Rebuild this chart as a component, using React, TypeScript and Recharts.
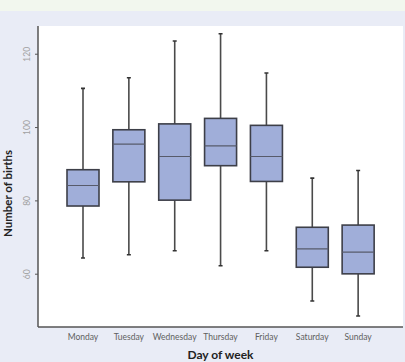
import { ComposedChart, Bar, XAxis, YAxis, CartesianGrid } from "recharts";

// values
const days = ["Monday", "Tuesday", "Wednesday", "Thursday", "Friday", "Saturday", "Sunday"];
const mins = [64.4, 65.3, 66.4, 62.3, 66.4, 52.7, 48.6];
const q1s = [78.6, 85.2, 80.2, 89.6, 85.3, 61.9, 60.1];
const medians = [84.2, 95.5, 92.1, 95.0, 92.1, 66.9, 66.0];
const q3s = [88.5, 99.4, 101.0, 102.5, 100.6, 72.8, 73.4];
const maxs = [110.7, 113.6, 123.6, 125.6, 114.9, 86.2, 88.3];
const yTicks = [60, 80, 100, 120];

const data = days.map((day, i) => ({
  day,
  min: mins[i],
  q1: q1s[i],
  median: medians[i],
  q3: q3s[i],
  max: maxs[i],
}));

const FONT = "Lato, 'Open Sans', sans-serif";

const BoxShape = (props: any) => {
  const { x, y, width, height, payload } = props;
  const k = height / (payload.q3 - payload.q1);
  const py = (v: number) => y + (payload.q3 - v) * k;
  const cx = x + width / 2;
  return (
    <g>
      <line x1={cx} x2={cx} y1={py(payload.max)} y2={y} stroke="#4a4a4a" strokeWidth={1.6} />
      <line x1={cx} x2={cx} y1={y + height} y2={py(payload.min)} stroke="#4a4a4a" strokeWidth={1.6} />
      <line x1={cx - 2} x2={cx + 2} y1={py(payload.max)} y2={py(payload.max)} stroke="#333" strokeWidth={1.6} />
      <line x1={cx - 2} x2={cx + 2} y1={py(payload.min)} y2={py(payload.min)} stroke="#333" strokeWidth={1.6} />
      <rect x={x} y={y} width={width} height={height} fill="#a0aed9" stroke="#3d3f48" strokeWidth={1.6} />
      <line x1={x} x2={x + width} y1={py(payload.median)} y2={py(payload.median)} stroke="#575b6b" strokeWidth={1.2} />
    </g>
  );
};

const YTick = (props: any) => {
  const { x, y, payload } = props;
  return (
    <text
      x={x - 3}
      y={y}
      transform={`rotate(-90, ${x - 3}, ${y})`}
      textAnchor="middle"
      fontSize={8.5}
      fill="#a0a0a0"
      fontFamily={FONT}
    >
      {payload.value}
    </text>
  );
};

export default function App() {
  return (
    <div style={{ position: "fixed", left: 0, top: 0, width: 405, height: 362, background: "#e9ecf6" }}>
      <div style={{ position: "absolute", left: 0, top: 0, width: 405, height: 11, background: "#f2f7ee" }} />
      <div style={{ position: "absolute", left: 0, top: 0 }}>
        <ComposedChart width={405} height={362} data={data} margin={{ top: 26, right: 2, bottom: 0, left: 0 }}>
          <CartesianGrid fill="#ffffff" vertical={false} horizontal={false} />
          <XAxis
            dataKey="day"
            height={35}
            padding={{ left: 22, right: 22 }}
            tickLine={false}
            axisLine={{ stroke: "#555", strokeWidth: 1.5 }}
            tick={{ fontSize: 8.5, fill: "#606060", fontFamily: FONT }}
            tickMargin={1}
            interval={0}
            label={{
              value: "Day of week",
              position: "insideBottom",
              offset: 3,
              fontSize: 12,
              fontWeight: 700,
              fill: "#222",
              fontFamily: FONT,
            }}
          />
          <YAxis
            width={38}
            type="number"
            domain={[45.6, 127.7]}
            ticks={yTicks}
            allowDataOverflow
            tick={<YTick />}
            tickSize={3}
            axisLine={{ stroke: "#555", strokeWidth: 1.5 }}
            tickLine={{ stroke: "#555" }}
            label={{
              value: "Number of births",
              angle: -90,
              position: "insideLeft",
              offset: 8,
              dy: 17,
              style: { textAnchor: "middle" },
              fontSize: 11.5,
              fontWeight: 700,
              fill: "#222",
              fontFamily: FONT,
            }}
          />
          <Bar
            dataKey={(d: any) => [d.q1, d.q3]}
            barSize={32}
            shape={<BoxShape />}
            isAnimationActive={false}
          />
        </ComposedChart>
      </div>
    </div>
  );
}
